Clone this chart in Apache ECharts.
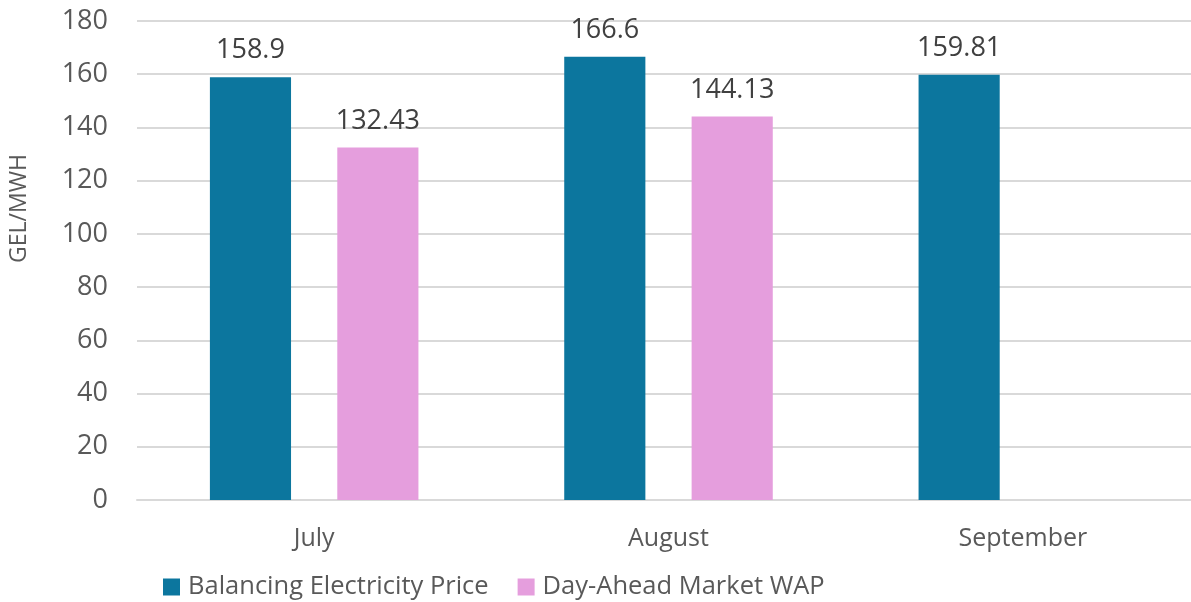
<!DOCTYPE html>
<html>
<head>
<meta charset="utf-8">
<script src="https://cdn.jsdelivr.net/npm/echarts@6/dist/echarts.min.js"></script>
<style>html,body{margin:0;padding:0;background:#fff}#c{width:1191px;height:602px}</style>
</head>
<body>
<div id="c"></div>
<script>
const categories = ['July', 'August', 'September'];
const balancing = [158.9, 166.6, 159.81];
const dayAhead = [132.43, 144.13, null];
const yTicks = [0, 20, 40, 60, 80, 100, 120, 140, 160, 180];

const font = '"Open Sans", "Noto Sans", sans-serif';
const chart = echarts.init(document.getElementById('c'));
chart.setOption({
  animation: false,
  textStyle: { fontFamily: font },
  grid: { left: 137, right: -9, top: 21, bottom: 102, outerBoundsMode: 'none', containLabel: false },
  legend: {
    top: 569, left: 158,
    itemWidth: 17, itemHeight: 17, itemGap: 29,
    icon: 'rect',
    textStyle: { fontSize: 25.5, color: '#595959', fontFamily: font, padding: [0, 0, 0, 3] },
    data: ['Balancing Electricity Price', 'Day-Ahead Market WAP']
  },
  xAxis: {
    type: 'category', data: categories,
    axisLine: { lineStyle: { color: '#d9d9d9', width: 2 } },
    axisTick: { show: false },
    axisLabel: { fontSize: 25, color: '#595959', margin: 26 }
  },
  yAxis: {
    type: 'value', min: yTicks[0], max: yTicks[yTicks.length - 1], interval: 20,
    name: 'GEL/MWH', nameLocation: 'middle', nameGap: 106, nameRotate: 90,
    nameTextStyle: { fontSize: 23, color: '#595959', padding: [0, 0, 0, 104] },
    axisLine: { show: false }, axisTick: { show: false },
    axisLabel: { fontSize: 27, color: '#595959', margin: 29 },
    splitLine: { lineStyle: { color: '#d9d9d9', width: 2 } }
  },
  series: [
    {
      name: 'Balancing Electricity Price', type: 'bar', data: balancing,
      barWidth: '22.9%', barGap: '57%',
      itemStyle: { color: '#0C769E' },
      label: { show: true, position: 'top', distance: 13, fontSize: 27, color: '#404040' }
    },
    {
      name: 'Day-Ahead Market WAP', type: 'bar', data: dayAhead,
      barWidth: '22.9%',
      itemStyle: { color: '#E59EDD' },
      label: { show: true, position: 'top', distance: 13, fontSize: 27, color: '#404040' }
    }
  ]
});
</script>
</body>
</html>
